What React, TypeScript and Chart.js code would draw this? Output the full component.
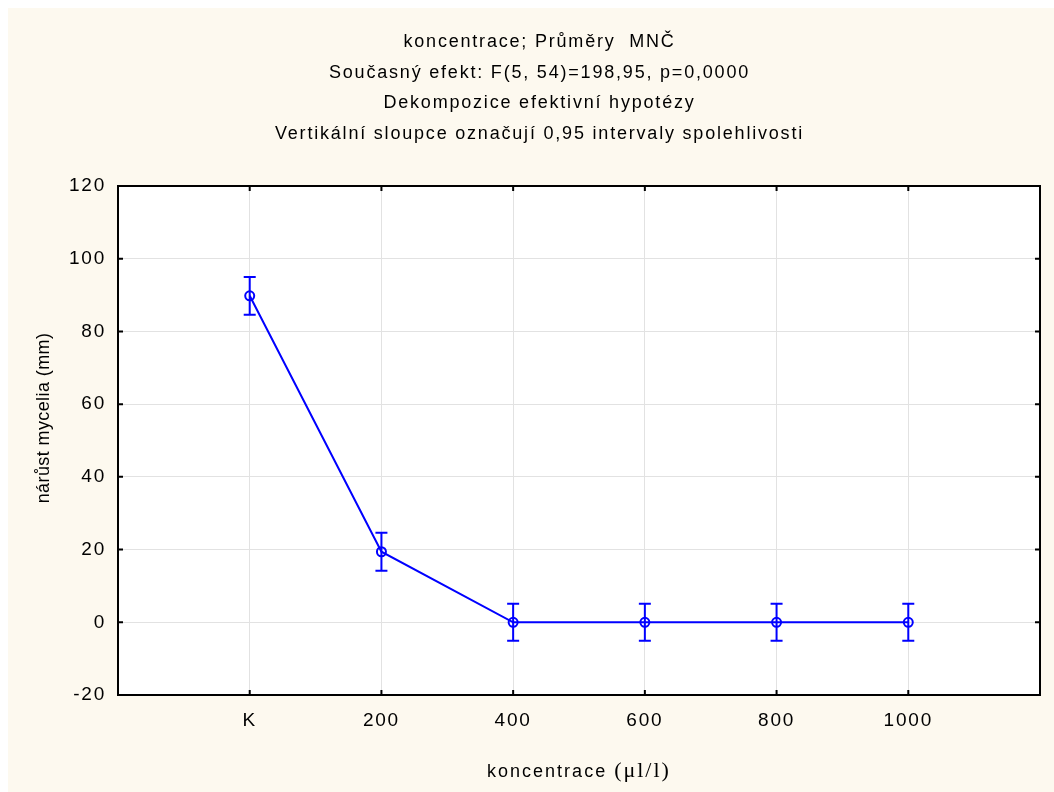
import React, { useEffect, useRef } from 'react';
import { Chart, registerables } from 'chart.js';

Chart.register(...registerables);

const categories = ['K', '200', '400', '600', '800', '1000'];
const means = [89.8, 19.4, 0, 0, 0, 0];
const ciLower = [84.6, 14.2, -5.1, -5.1, -5.1, -5.1];
const ciUpper = [95.0, 24.6, 5.1, 5.1, 5.1, 5.1];
const yTicks = [-20, 0, 20, 40, 60, 80, 100, 120];
const titleLines = [
  'koncentrace; Průměry  MNČ',
  'Současný efekt: F(5, 54)=198,95, p=0,0000',
  'Dekompozice efektivní hypotézy',
  'Vertikální sloupce označují 0,95 intervaly spolehlivosti',
];
const yTitle = 'nárůst mycelia (mm)';
const xTitleMain = 'koncentrace ';
const xTitleUnit = '(μl/l)';

const FONT = '"Liberation Sans", Arial, sans-serif';
const BLUE = '#0000ff';
const CREAM = '#fdf9ef';

const W = 1046;
const H = 784;

export default function App() {
  const ref = useRef<HTMLCanvasElement | null>(null);

  useEffect(() => {
    const canvas = ref.current;
    if (!canvas) return;

    const background = {
      id: 'background',
      beforeDraw(chart: any) {
        const { ctx, chartArea } = chart;
        ctx.save();
        ctx.fillStyle = CREAM;
        ctx.fillRect(0, 0, chart.width, chart.height);
        ctx.fillStyle = '#ffffff';
        ctx.fillRect(chartArea.left, chartArea.top, chartArea.right - chartArea.left, chartArea.bottom - chartArea.top);
        ctx.restore();
        // Statistica-like wide letter spacing for the library's own texts
        (ctx as any).letterSpacing = '1.8px';
      },
    };

    const errorBars = {
      id: 'errorBars',
      beforeDatasetsDraw(chart: any) {
        const { ctx } = chart;
        const xs = chart.scales.x;
        const ys = chart.scales.y;
        ctx.save();
        ctx.strokeStyle = BLUE;
        ctx.lineWidth = 2;
        const cap = 6;
        for (let i = 0; i < means.length; i++) {
          const x = xs.getPixelForValue(i);
          const yT = ys.getPixelForValue(ciUpper[i]);
          const yB = ys.getPixelForValue(ciLower[i]);
          ctx.beginPath();
          ctx.moveTo(x, yT);
          ctx.lineTo(x, yB);
          ctx.moveTo(x - cap, yT);
          ctx.lineTo(x + cap, yT);
          ctx.moveTo(x - cap, yB);
          ctx.lineTo(x + cap, yB);
          ctx.stroke();
        }
        ctx.restore();
      },
    };

    const frame = {
      id: 'frame',
      afterDraw(chart: any) {
        const { ctx, chartArea: a } = chart;
        const xs = chart.scales.x;
        const ys = chart.scales.y;
        ctx.save();
        ctx.strokeStyle = '#000000';
        ctx.lineWidth = 2;
        ctx.strokeRect(a.left, a.top, a.right - a.left, a.bottom - a.top);
        ctx.beginPath();
        const t = 5;
        for (const v of yTicks) {
          const y = ys.getPixelForValue(v);
          ctx.moveTo(a.left, y);
          ctx.lineTo(a.left + t, y);
          ctx.moveTo(a.right, y);
          ctx.lineTo(a.right - t, y);
        }
        for (let i = 0; i < categories.length; i++) {
          const x = xs.getPixelForValue(i);
          ctx.moveTo(x, a.bottom);
          ctx.lineTo(x, a.bottom - t);
          ctx.moveTo(x, a.top);
          ctx.lineTo(x, a.top + t);
        }
        ctx.stroke();

        ctx.fillStyle = '#000000';
        // y title
        ctx.save();
        (ctx as any).letterSpacing = '0.4px';
        ctx.translate(36, 410);
        ctx.rotate(-Math.PI / 2);
        ctx.textAlign = 'center';
        ctx.textBaseline = 'middle';
        ctx.font = `18px ${FONT}`;
        ctx.fillText(yTitle, 0, 0);
        ctx.restore();
        // x title (mixed fonts)
        (ctx as any).letterSpacing = '2px';
        const fMain = `18px ${FONT}`;
        const fUnit = `22px "Liberation Serif", "Times New Roman", serif`;
        ctx.font = fMain;
        const w1 = ctx.measureText(xTitleMain).width;
        ctx.font = fUnit;
        const w2 = ctx.measureText(xTitleUnit).width;
        const cx = (a.left + a.right) / 2;
        const x0 = cx - (w1 + w2) / 2;
        const base = 769;
        ctx.textAlign = 'left';
        ctx.textBaseline = 'alphabetic';
        ctx.font = fMain;
        ctx.fillText(xTitleMain, x0, base);
        ctx.font = fUnit;
        ctx.fillText(xTitleUnit, x0 + w1, base);
        ctx.restore();
      },
    };

    const chart = new Chart(canvas, {
      type: 'line',
      data: {
        datasets: [
          {
            data: means.map((m, i) => ({ x: i, y: m })),
            borderColor: BLUE,
            borderWidth: 2,
            pointRadius: 4.5,
            pointBorderWidth: 2,
            pointBorderColor: BLUE,
            pointBackgroundColor: 'rgba(0,0,0,0)',
            tension: 0,
            fill: false,
          },
        ],
      },
      options: {
        responsive: false,
        animation: false,
        devicePixelRatio: 1,
        layout: { padding: { left: 28, right: 11, top: 0, bottom: 0 } },
        plugins: {
          legend: { display: false },
          tooltip: { enabled: false },
          title: {
            display: true,
            text: titleLines,
            color: '#000000',
            font: { family: FONT, size: 18, weight: 'normal', lineHeight: 30.7 / 18 },
            padding: { top: 18.6, bottom: 36.6 },
          },
        },
        scales: {
          x: {
            type: 'linear',
            min: -1,
            max: 6,
            afterFit(scale: any) {
              scale.height = 97;
            },
            afterBuildTicks(scale: any) {
              scale.ticks = [-1, 0, 1, 2, 3, 4, 5, 6].map((v) => ({ value: v }));
            },
            ticks: {
              color: '#000000',
              font: { family: FONT, size: 19 },
              padding: 14,
              autoSkip: false,
              maxRotation: 0,
              callback: (v: any) => categories[v as number] ?? '',
            },
            grid: { color: '#e2e2e2', lineWidth: 1, drawTicks: false },
            border: { display: false },
          },
          y: {
            type: 'linear',
            min: -20,
            max: 120,
            afterFit(scale: any) {
              scale.width = 82;
            },
            afterBuildTicks(scale: any) {
              scale.ticks = yTicks.map((v) => ({ value: v }));
            },
            ticks: {
              color: '#000000',
              font: { family: FONT, size: 19 },
              padding: 12,
            },
            grid: { color: '#e2e2e2', lineWidth: 1, drawTicks: false },
            border: { display: false },
          },
        },
      },
      plugins: [background, errorBars, frame],
    });

    return () => chart.destroy();
  }, []);

  return (
    <div style={{ position: 'fixed', left: 8, top: 8, width: W, height: H }}>
      <canvas ref={ref} width={W} height={H} style={{ display: 'block' }} />
    </div>
  );
}
